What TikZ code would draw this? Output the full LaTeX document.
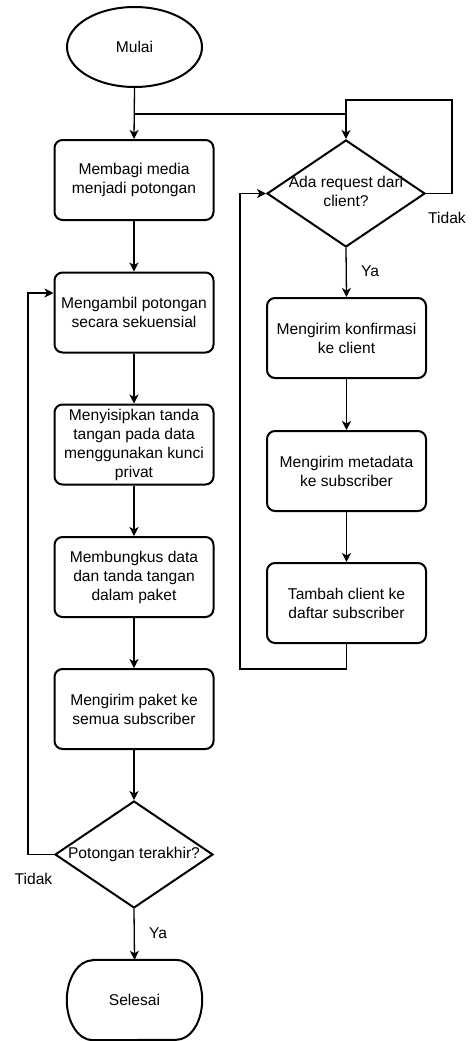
\documentclass[tikz,border=0pt]{standalone}
\usepackage{fontspec}
\setmainfont{Liberation Sans}
\usetikzlibrary{shapes.geometric,arrows.meta,calc}
\begin{document}
\begin{tikzpicture}[x=1pt,y=1pt,
  font=\fontsize{15.6pt}{19pt}\selectfont,
  proc/.style={draw, line width=2pt, rounded corners=8pt, minimum width=159pt, minimum height=80pt, inner sep=0pt, align=center},
  decis/.style={draw, diamond, line width=2pt, minimum width=158pt, minimum height=107pt, inner sep=0pt},
  term/.style={draw, ellipse, line width=2pt, minimum width=135pt, minimum height=80pt, inner sep=0pt},
  lbl/.style={inner sep=0pt, align=center},
  arr/.style={line width=1.3pt, -{Stealth[length=9pt,width=9pt,inset=2.5pt]}},
  ln/.style={line width=1.3pt}]
\useasboundingbox (0,0) rectangle (473,-1041);

% left column
\node[term] (mulai) at (134.5,-47) {Mulai};
\node[proc] (b1) at (134,-180) {Membagi media\\menjadi potongan};
\node[proc] (b2) at (134,-312.5) {Mengambil potongan\\secara sekuensial};
\node[proc] (b3) at (134,-444.5) {Menyisipkan tanda\\tangan pada data\\menggunakan kunci\\privat};
\node[proc] (b4) at (134,-577) {Membungkus data\\dan tanda tangan\\dalam paket};
\node[proc] (b5) at (134,-709) {Mengirim paket ke\\semua subscriber};
\node[decis] (d2) at (134,-854.5) {};
\node[lbl] (d2t) at (134,-854) {Potongan terakhir?};
\node[minimum width=135pt, minimum height=80pt, inner sep=0pt] (selesai) at (134.5,-1000) {Selesai};
\draw[line width=2pt] ([xshift=26pt]selesai.north west) -- ([xshift=-26pt]selesai.north east)
  arc[start angle=90, end angle=-90, x radius=26pt, y radius=40pt]
  -- ([xshift=26pt]selesai.south west)
  arc[start angle=270, end angle=90, x radius=26pt, y radius=40pt] -- cycle;

% right column
\node[decis] (d1) at (346,-193.5) {};
\node[lbl] (d1t) at (346,-191.5) {Ada request dari\\client?};
\node[proc] (r1) at (346.5,-338) {Mengirim konfirmasi\\ke client};
\node[proc] (r2) at (346.5,-471) {Mengirim metadata\\ke subscriber};
\node[proc] (r3) at (346.5,-603) {Tambah client ke\\daftar subscriber};

% labels
\node[lbl] (ya1) at (370,-271) {Ya};
\node[lbl] (td1) at (447,-218) {Tidak};
\node[lbl] (td2) at (33.5,-879) {Tidak};
\node[lbl] (ya2) at (158,-933) {Ya};

% helper coordinates
\coordinate (j1) at (134,-114);
\coordinate (j2) at (346,-114);
\coordinate (t1) at (452,-100);
\coordinate (c1) at (240,-669);
\coordinate (c2) at (28,-854.5);

% connectors
\draw[arr] (mulai.south) -- (b1.north);
\draw[arr] (j1) -| (d1.north);
\draw[ln] (d1.east) -| (t1) -| (j2);
\draw[arr] (b1) -- (b2);
\draw[arr] (b2) -- (b3);
\draw[arr] (b3) -- (b4);
\draw[arr] (b4) -- (b5);
\draw[arr] (b5) -- (d2.north);
\draw[arr] (d2.south) -- (selesai.north);
\draw[arr] (d2.west) -- (c2) |- ([yshift=19.5pt]b2.west);
\draw[arr] (d1.south) -- (r1.north);
\draw[arr] (r1) -- (r2);
\draw[arr] (r2) -- (r3);
\draw[arr] (r3.south) |- (c1) |- (d1.west);
\end{tikzpicture}
\end{document}
